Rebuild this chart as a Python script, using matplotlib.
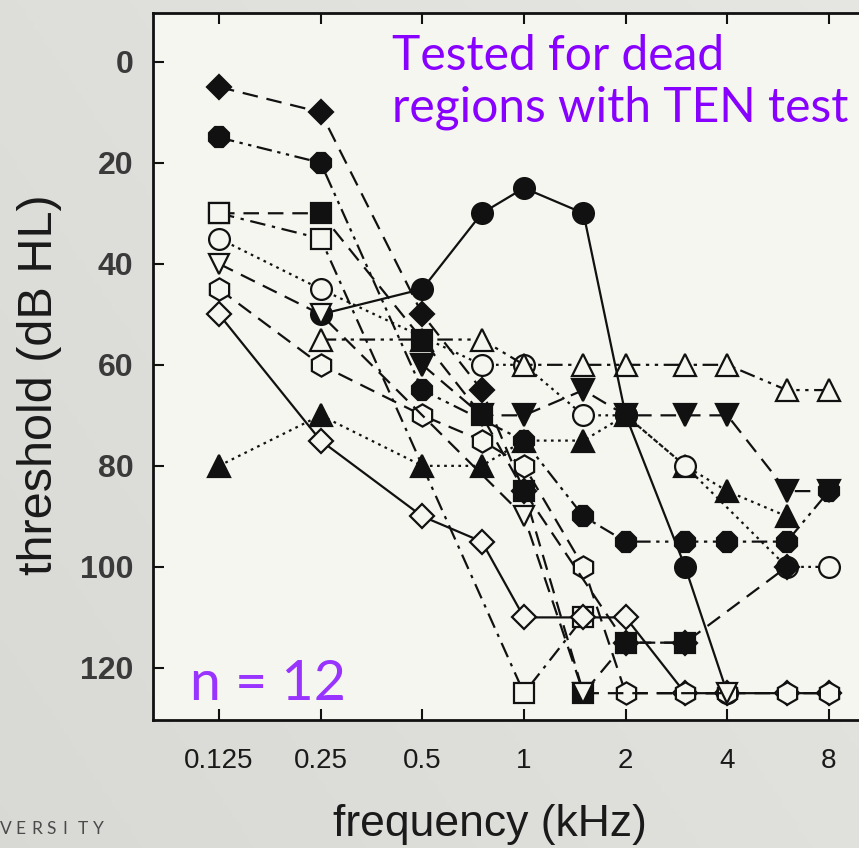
import numpy as np
import matplotlib
matplotlib.use("Agg")
import matplotlib.pyplot as plt

nan = np.nan

# audiometric frequencies (kHz)
freqs = [0.125, 0.25, 0.5, 0.75, 1, 1.5, 2, 3, 4, 6, 8]
xtick_vals = [0.125, 0.25, 0.5, 1, 2, 4, 8]
xtick_text = ["0.125", "0.25", "0.5", "1", "2", "4", "8"]
ytick_vals = [0, 20, 40, 60, 80, 100, 120]

# thresholds (dB HL) for the 12 ears
filled_diamond = [5, 10, 50, 65, 85, nan, 115, 115, nan, 100, nan]
filled_octagon = [15, 20, 65, nan, 75, 90, 95, 95, 95, 95, 85]
open_square = [30, 35, nan, nan, 125, 110, nan, nan, nan, nan, nan]
filled_square = [30, 30, 55, 70, 85, 125, 115, 115, nan, nan, nan]
open_circle = [35, 45, nan, 60, 60, 70, 70, 80, nan, 100, 100]
open_tri_down = [40, 50, nan, nan, 90, 125, nan, nan, 125, nan, nan]
open_hexagon = [45, 60, 70, 75, 80, 100, 125, 125, 125, 125, 125]
open_diamond = [50, 75, 90, 95, 110, 110, 110, 125, 125, 125, 125]
filled_tri = [80, 70, 80, 80, 75, 75, 70, 80, 85, 90, nan]
filled_circle = [nan, 50, 45, 30, 25, 30, 70, 100, 125, nan, nan]
open_tri_up = [nan, 55, 55, 55, 60, 60, 60, 60, 60, 65, 65]
filled_tri_down = [nan, nan, 60, 70, 70, 65, 70, 70, 70, 85, 85]

face = "#f6f6f1"
ink = "#111111"

# dash styles
dashed = (0, (7, 4))
dashdot = (0, (7, 3, 1.5, 3))
dashdotdot = (0, (7, 2.5, 1.5, 2.5, 1.5, 2.5))
dotted = (0, (1.2, 2))

# drawn in this order, later ones on top
series = [
    (filled_tri, "^", True, dotted, 16),
    (open_circle, "o", False, dotted, 15),
    (open_tri_up, "^", False, dashdotdot, 16),
    (filled_tri_down, "v", True, dashed, 16),
    (filled_square, "s", True, dashed, 14),
    (open_square, "s", False, dashdot, 14),
    (filled_circle, "o", True, "-", 15),
    (open_diamond, "D", False, "-", 12),
    (open_hexagon, "h", False, dashed, 16),
    (filled_octagon, "8", True, dashdotdot, 15),
    (filled_diamond, "D", True, dashed, 12),
    (open_tri_down, "v", False, dashed, 15),
]

fig = plt.figure(figsize=(8.59, 8.48), dpi=100)

# slide background
bg = fig.add_axes([0, 0, 1, 1], zorder=-5)
gx, gy = np.meshgrid(np.linspace(0, 1, 200), np.linspace(0, 1, 200))
shade = 0.85 + 0.02 * gy + 0.03 * gx
bg.imshow(np.dstack([shade, shade, shade * 0.985]), extent=[0, 1, 0, 1],
          aspect="auto", origin="lower")
bg.axis("off")

ax = fig.add_axes([0.178, 0.151, 0.864, 0.834])
ax.set_facecolor(face)

for vals, mk, filled, ls, ms in series:
    y = np.array(vals, dtype=float)
    ok = ~np.isnan(y)
    x = np.array(freqs)[ok]
    ax.plot(x, y[ok], linestyle=ls, color=ink, lw=1.6, marker=mk, ms=ms,
            mfc=ink if filled else face, mec=ink, mew=1.6)

ax.set_xscale("log", base=2)
ax.set_xlim(0.125 * 2 ** -0.65, 0.125 * 2 ** 6.65)
ax.set_ylim(130.3, -9.7)
ax.set_xticks(xtick_vals)
ax.set_xticklabels(xtick_text)
ax.minorticks_off()
ax.set_yticks(ytick_vals)

ax.tick_params(direction="in", length=8, width=1.5, top=True, right=True,
               colors=ink)
ax.tick_params(axis="x", pad=20)
ax.tick_params(axis="y", pad=14)
for lab in ax.get_xticklabels():
    lab.set_family("Liberation Sans")
    lab.set_fontsize(20)
    lab.set_color("#1a1a1a")
for lab in ax.get_yticklabels():
    lab.set_family("Liberation Sans")
    lab.set_fontweight("bold")
    lab.set_fontsize(23)
    lab.set_color("#3a3a3a")
for sp in ax.spines.values():
    sp.set_linewidth(2)
    sp.set_color(ink)

ax.set_xlabel("frequency (kHz)", fontsize=32, color="#1a1a1a",
              family="Liberation Sans")
ax.set_ylabel("threshold (dB HL)", fontsize=35, color="#1a1a1a",
              family="Liberation Sans")
ax.xaxis.set_label_coords((490 - 153) / 742, -(825 - 720) / 707, transform=ax.transAxes)
ax.xaxis.label.set_va("center")
ax.yaxis.set_label_coords(-(153 - 40) / 742, 1 - (385 - 13) / 707, transform=ax.transAxes)
ax.yaxis.label.set_va("center")

fig.text(392 / 859, 1 - 34 / 848, "Tested for dead\nregions with TEN test",
         fontsize=34.5, color="#8800ff", family="Lato", ha="left", va="top",
         linespacing=1.22)
fig.text(190 / 859, 1 - 700 / 848, "n = 12", fontsize=40,
         color="#9933ff", family="Lato", ha="left", va="baseline")

# cut-off footer lettering
for i, ch in enumerate("VERSITY"):
    fig.text((0 + 15.5 * i) / 859, 1 - 834 / 848, ch, fontsize=12.5,
             color="#4a4a4a", family="Lato", ha="left", va="baseline")

fig.savefig("out.png", dpi=100)
